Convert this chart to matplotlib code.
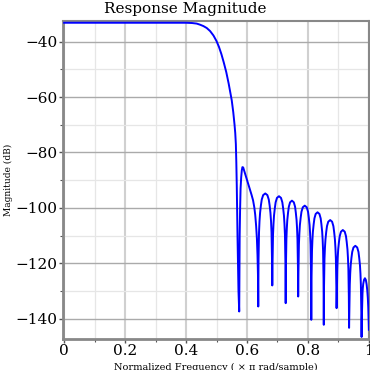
import matplotlib
matplotlib.use("Agg")
import matplotlib.pyplot as plt
from matplotlib.ticker import MultipleLocator

# Normalized frequency (x pi rad/sample) and magnitude (dB)
# passband and transition band
freq_pass = [0.0, 0.1, 0.2, 0.3, 0.40, 0.42, 0.435, 0.446, 0.457, 0.468, 0.479, 0.490,
             0.500, 0.508, 0.516, 0.524, 0.532, 0.540, 0.550, 0.555, 0.559, 0.5615,
             0.5635, 0.5650, 0.5665, 0.5689, 0.5721, 0.5745]
mag_pass = [-33.2, -33.2, -33.2, -33.2, -33.2, -33.3, -33.5, -33.9, -34.4, -35.1, -36.2, -37.8,
            -39.8, -41.9, -44.5, -47.6, -51.0, -55.2, -61.2, -65.5, -69.8, -73.0,
            -77.0, -83.5, -92.0, -110.0, -130.0, -137.4]

# first side lobe (with shoulder)
freq_lobe1 = [0.5752, 0.5760, 0.5775, 0.579, 0.581, 0.583, 0.585, 0.5875, 0.590, 0.595,
              0.600, 0.605, 0.610, 0.615, 0.620, 0.624, 0.627, 0.630, 0.6325, 0.6345,
              0.636, 0.637]
mag_lobe1 = [-122.0, -110.0, -100.0, -93.0, -89.0, -86.5, -85.3, -85.4, -86.3, -88.0,
             -90.0, -91.8, -93.6, -95.3, -97.3, -99.8, -102.5, -106.5, -111.0, -117.0,
             -124.0, -135.6]

# remaining stop-band lobes
freq_lobes = [
    0.6379, 0.6395, 0.6411, 0.6430, 0.6457, 0.6485, 0.6531, 0.6600, 0.6669, 0.6715, 0.6743, 0.6770, 0.6789, 0.6805, 0.6821, 0.683,
    0.6839, 0.6854, 0.6870, 0.6887, 0.6914, 0.6940, 0.6984, 0.7050, 0.7116, 0.7160, 0.7186, 0.7213, 0.7230, 0.7246, 0.7261, 0.727,
    0.7278, 0.7293, 0.7307, 0.7323, 0.7348, 0.7373, 0.7414, 0.7475, 0.7537, 0.7578, 0.7602, 0.7627, 0.7643, 0.7657, 0.7672, 0.768,
    0.7689, 0.7704, 0.7719, 0.7736, 0.7762, 0.7788, 0.7831, 0.7895, 0.7960, 0.8003, 0.8028, 0.8054, 0.8071, 0.8086, 0.8101, 0.811,
    0.8118, 0.8133, 0.8147, 0.8163, 0.8188, 0.8213, 0.8254, 0.8315, 0.8377, 0.8418, 0.8442, 0.8467, 0.8483, 0.8497, 0.8512, 0.852,
    0.8528, 0.8543, 0.8558, 0.8575, 0.8600, 0.8625, 0.8667, 0.8730, 0.8793, 0.8835, 0.8860, 0.8885, 0.8902, 0.8917, 0.8932, 0.894,
    0.8948, 0.8963, 0.8977, 0.8993, 0.9018, 0.9043, 0.9084, 0.9145, 0.9207, 0.9248, 0.9272, 0.9297, 0.9313, 0.9327, 0.9342, 0.935,
    0.9358, 0.9373, 0.9387, 0.9403, 0.9428, 0.9453, 0.9494, 0.9555, 0.9617, 0.9658, 0.9682, 0.9707, 0.9723, 0.9737, 0.9752, 0.976,
    0.9768, 0.9780, 0.9790, 0.9800, 0.9815, 0.984, 0.987, 0.990, 0.9925, 0.9945, 0.9965, 0.998, 1.0]
mag_lobes = [
    -118.8, -108.8, -104.8, -101.8, -99.1, -97.0, -95.4, -94.8, -95.4, -97.0, -99.1, -101.8, -104.8, -108.8, -118.8, -128.0,
    -119.8, -109.8, -105.8, -102.8, -100.1, -98.0, -96.4, -95.8, -96.4, -98.0, -100.1, -102.8, -105.8, -109.8, -119.8, -134.4,
    -121.4, -111.4, -107.4, -104.4, -101.7, -99.6, -98.0, -97.4, -98.0, -99.6, -101.7, -104.4, -107.4, -111.4, -121.4, -132.0,
    -123.2, -113.2, -109.2, -106.2, -103.5, -101.4, -99.8, -99.2, -99.8, -101.4, -103.5, -106.2, -109.2, -113.2, -123.2, -140.4,
    -125.6, -115.6, -111.6, -108.6, -105.9, -103.8, -102.2, -101.6, -102.2, -103.8, -105.9, -108.6, -111.6, -115.6, -125.6, -142.2,
    -128.4, -118.4, -114.4, -111.4, -108.7, -106.6, -105.0, -104.4, -105.0, -106.6, -108.7, -111.4, -114.4, -118.4, -128.4, -136.2,
    -132.0, -122.0, -118.0, -115.0, -112.3, -110.2, -108.6, -108.0, -108.6, -110.2, -112.3, -115.0, -118.0, -122.0, -132.0, -143.3,
    -137.7, -127.7, -123.7, -120.7, -118.0, -115.9, -114.3, -113.7, -114.3, -115.9, -118.0, -120.7, -123.7, -127.7, -137.7, -146.6,
    -140.0, -135.0, -131.0, -129.0, -127.4, -126.0, -125.4, -126.0, -127.6, -129.6, -132.5, -136.0, -144.0]

x_ticks = [0, 0.2, 0.4, 0.6, 0.8, 1]
x_tick_labels = ["0", "0.2", "0.4", "0.6", "0.8", "1"]
y_ticks = [-140, -120, -100, -80, -60, -40]
y_tick_labels = ["\u2212140", "\u2212120", "\u2212100", "\u221280", "\u221260", "\u221240"]

freq = freq_pass + freq_lobe1 + freq_lobes
mag_db = mag_pass + mag_lobe1 + mag_lobes

plt.rcParams['font.family'] = ['DejaVu Serif']

fig = plt.figure(figsize=(3.7, 3.7), dpi=100)
ax = fig.add_axes([0.170, 0.084, 0.827, 0.859])

ax.plot(freq, mag_db, color='#0000ff', lw=1.4, zorder=3, solid_joinstyle='round')

ax.set_xlim(-0.004, 1.0)
ax.set_ylim(-147.3, -32.6)
ax.set_xticks(x_ticks)
ax.set_xticklabels(x_tick_labels)
ax.set_yticks(y_ticks)
ax.set_yticklabels(y_tick_labels)
ax.xaxis.set_minor_locator(MultipleLocator(0.1))
ax.yaxis.set_minor_locator(MultipleLocator(10))

ax.grid(True, axis='x', which='major', color='#d0d0d0', lw=1.5)
ax.grid(True, axis='y', which='major', color='#aaaaaa', lw=1.0)
ax.grid(True, which='minor', color='#e6e6e6', lw=0.9)
ax.set_axisbelow(True)

for s in ['left', 'bottom']:
    ax.spines[s].set_color('#888888')
    ax.spines[s].set_linewidth(2.0)
for s in ['top', 'right']:
    ax.spines[s].set_color('#888888')
    ax.spines[s].set_linewidth(1.5)

ax.tick_params(which='major', direction='out', length=3, width=1, color='#555555',
               labelsize=11, pad=1)
ax.tick_params(which='minor', direction='out', length=2, width=0.8, color='#555555')

fig.text(0.5, 1 - 9.5 / 370, "Response Magnitude", fontsize=11, ha='center', va='center')
ax.set_ylabel("Magnitude (dB)", fontsize=6.5, labelpad=2)
ax.set_xlabel("Normalized Frequency ( \u00d7 \u03c0 rad/sample)", fontsize=7, labelpad=3)

fig.savefig("out.png", dpi=100)
